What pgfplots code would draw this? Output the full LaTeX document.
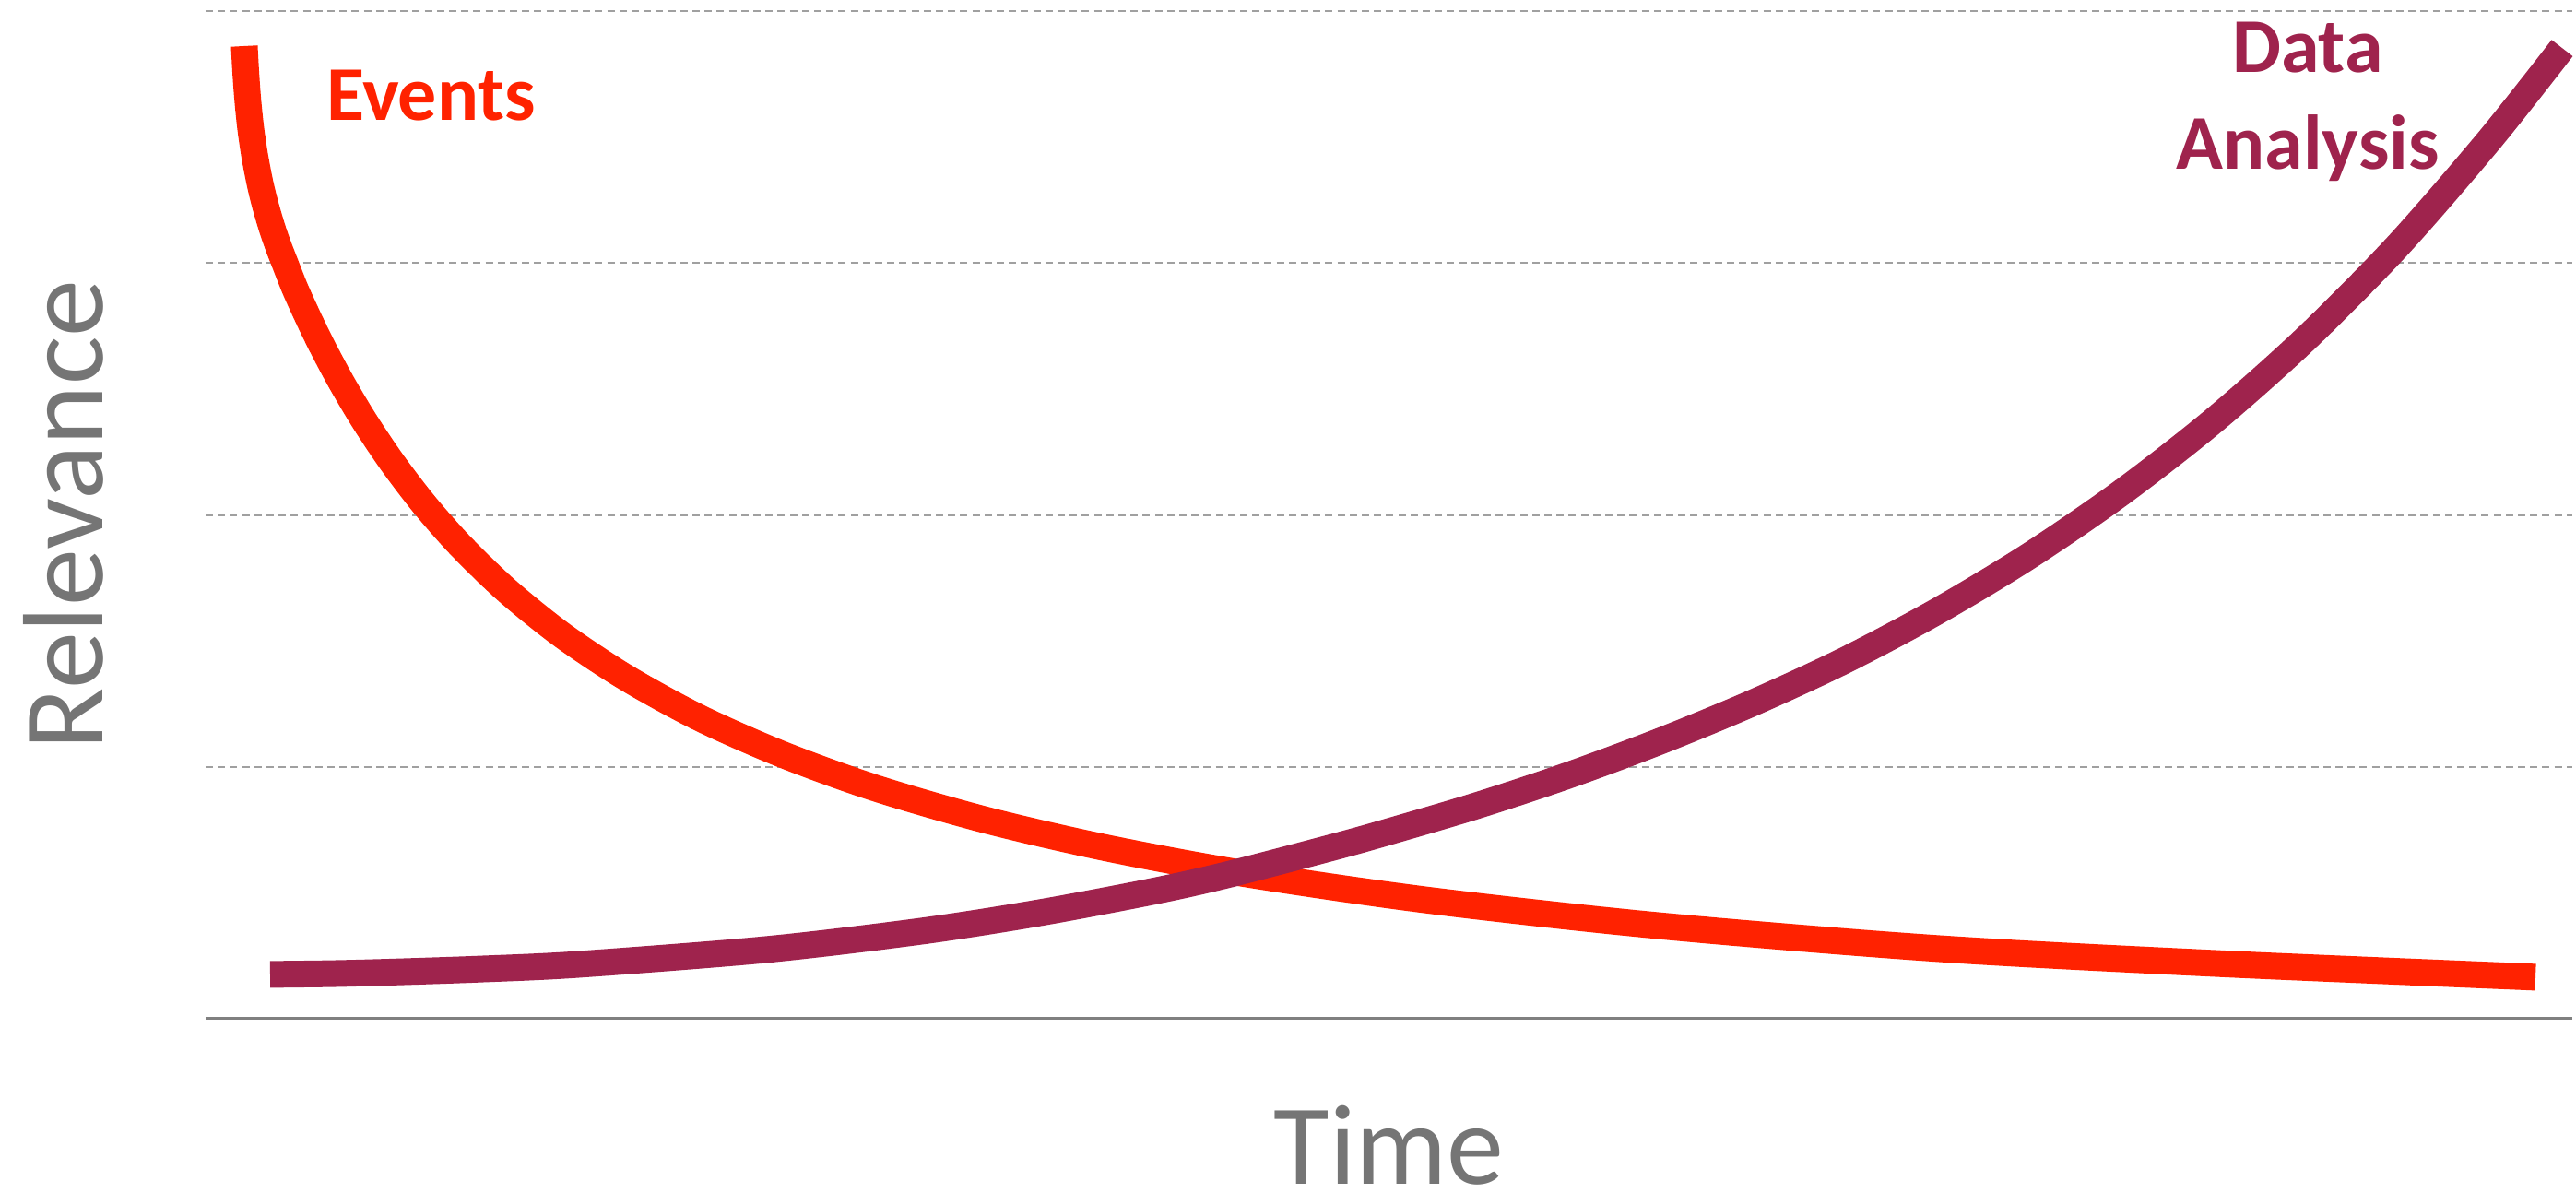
\documentclass[border=0pt]{standalone}
\usepackage{fontspec}
\setmainfont{Carlito}
\usepackage{pgfplots}
\pgfplotsset{compat=1.18}
\definecolor{evred}{RGB}{255,34,0}
\definecolor{dapurple}{RGB}{159,35,77}
\definecolor{labgray}{RGB}{117,117,117}
\definecolor{gridgray}{RGB}{160,160,160}
\definecolor{axgray}{RGB}{128,128,128}
\begin{document}
\begin{tikzpicture}
\begin{axis}[
  name=ax,
  scale only axis,
  width=641.75pt, height=273.25pt,
  xmin=0, xmax=100, ymin=0, ymax=4,
  axis x line=bottom, axis y line=left,
  x axis line style={-, draw=axgray, line width=0.75pt},
  y axis line style={draw=none},
  xtick=\empty,
  ytick={1,2,3,4}, yticklabels={},
  major tick length=0pt,
  ymajorgrids,
  major grid style={draw=gridgray, line width=0.6pt, dash pattern=on 2pt off 1.3pt},
  clip=false,
  xlabel={Time}, ylabel={Relevance},
  xlabel style={at={(axis description cs:0.5,-0.1640)}, anchor=base, inner sep=0pt, font=\fontsize{31}{37}\selectfont, text=labgray},
  ylabel style={at={(axis description cs:-0.04324,0.5)}, anchor=base, inner sep=0pt, rotate=0, font=\fontsize{31}{37}\selectfont, text=labgray},
]
% Events
\addplot[evred, line width=7.25pt, smooth, line join=round] coordinates {
(1.636,3.861) (1.698,3.755) (1.784,3.645) (1.905,3.535) (2.076,3.425) (2.302,3.315)
(2.544,3.223) (2.832,3.132) (3.105,3.059) (3.350,3.000) (3.779,2.898) (4.364,2.777)
(4.947,2.665) (5.727,2.528) (6.701,2.374) (7.870,2.210) (9.233,2.042) (10.791,1.876)
(12.739,1.699) (15.076,1.522) (17.803,1.352) (20.919,1.192) (24.426,1.047) (28.321,0.915)
(32.996,0.788) (38.060,0.678) (43.903,0.576) (51.694,0.470) (61.434,0.369) (73.120,0.279)
(84.808,0.220) (98.442,0.165)
};
% Data Analysis
\addplot[dapurple, line width=7.25pt, smooth, line join=round] coordinates {
(2.727,0.176) (5.337,0.179) (7.830,0.185) (11.570,0.197) (15.777,0.216) (23.724,0.275)
(30.269,0.348) (35.255,0.421) (40.203,0.509) (43.319,0.575) (47.643,0.681) (49.747,0.736)
(53.643,0.844) (57.538,0.965) (61.434,1.101) (65.329,1.252) (69.225,1.421) (73.120,1.615)
(77.016,1.835) (80.912,2.086) (84.807,2.371) (88.703,2.696) (92.599,3.066) (96.494,3.488)
(99.571,3.853)
};
\node[anchor=base west, text=evred, font=\bfseries\fontsize{21}{25}\selectfont] at (axis cs:4.56,3.568) {Events};
\node[anchor=base, text=dapurple, font=\bfseries\fontsize{21}{25}\selectfont] at (axis cs:88.82,3.758) {Data};
\node[anchor=base, text=dapurple, font=\bfseries\fontsize{21}{25}\selectfont] at (axis cs:88.82,3.374) {Analysis};
\end{axis}
\pgfresetboundingbox
\path[use as bounding box] ([shift={(-55.75pt,-47.25pt)}]ax.south west) rectangle ([shift={(1pt,3pt)}]ax.north east);
\end{tikzpicture}
\end{document}
